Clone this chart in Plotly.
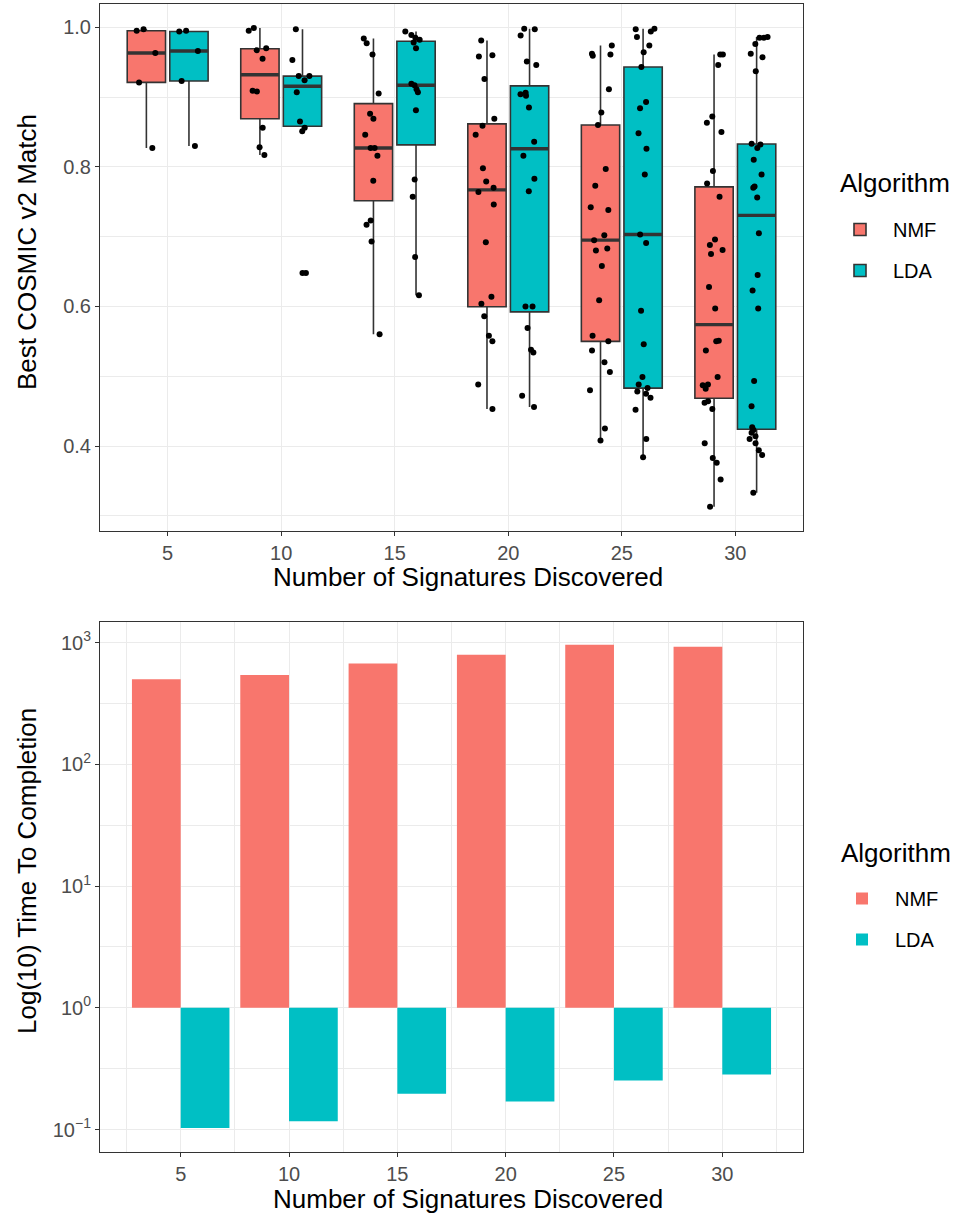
import numpy as np
import plotly.graph_objects as go

# ---------------- data ----------------
signatures = [5, 10, 15, 20, 25, 30]
algorithms = ["NMF", "LDA"]

nmf_5 = [0.997, 0.995, 0.963, 0.921, 0.827]
lda_5 = [0.995, 0.994, 0.966, 0.923, 0.830]
nmf_10 = [0.999, 0.995, 0.970, 0.967, 0.955, 0.909, 0.908, 0.856, 0.828, 0.817]
lda_10 = [0.997, 0.953, 0.930, 0.930, 0.924, 0.907, 0.865, 0.856, 0.851, 0.648]
nmf_15 = [0.984, 0.977, 0.961, 0.905, 0.876, 0.869, 0.846, 0.827, 0.827, 0.816,
          0.780, 0.723, 0.717, 0.693, 0.560]
lda_15 = [0.994, 0.989, 0.985, 0.982, 0.978, 0.970, 0.919, 0.917, 0.911, 0.907,
          0.881, 0.782, 0.757, 0.671, 0.616]
nmf_20 = [0.981, 0.960, 0.958, 0.926, 0.869, 0.859, 0.846, 0.798, 0.779, 0.770,
          0.764, 0.746, 0.692, 0.614, 0.604, 0.586, 0.558, 0.550, 0.488, 0.453]
lda_20 = [0.998, 0.997, 0.988, 0.951, 0.946, 0.906, 0.904, 0.902, 0.885, 0.836,
          0.816, 0.783, 0.765, 0.600, 0.600, 0.569, 0.538, 0.534, 0.472, 0.456]
nmf_25 = [0.974, 0.962, 0.961, 0.959, 0.911, 0.878, 0.860, 0.797, 0.773, 0.742,
          0.738, 0.702, 0.695, 0.683, 0.680, 0.658, 0.609, 0.558, 0.550, 0.537,
          0.520, 0.506, 0.480, 0.425, 0.408]
lda_25 = [0.998, 0.997, 0.994, 0.986, 0.974, 0.964, 0.943, 0.893, 0.884, 0.848,
          0.826, 0.789, 0.703, 0.691, 0.594, 0.546, 0.499, 0.488, 0.483, 0.478,
          0.475, 0.469, 0.452, 0.410, 0.384]
nmf_30 = [0.961, 0.961, 0.946, 0.872, 0.863, 0.850, 0.794, 0.776, 0.757, 0.696,
          0.688, 0.681, 0.675, 0.628, 0.597, 0.551, 0.550, 0.537, 0.499, 0.488,
          0.487, 0.482, 0.464, 0.462, 0.453, 0.404, 0.383, 0.376, 0.352, 0.313]
lda_30 = [0.986, 0.985, 0.985, 0.976, 0.962, 0.957, 0.937, 0.833, 0.832, 0.827,
          0.810, 0.789, 0.772, 0.770, 0.756, 0.705, 0.645, 0.623, 0.597, 0.493,
          0.457, 0.427, 0.423, 0.419, 0.414, 0.410, 0.404, 0.394, 0.387, 0.333]

# time to completion (seconds)
nmf_time = [501, 542, 673, 794, 962, 926]
lda_time = [0.103, 0.117, 0.197, 0.170, 0.253, 0.284]

log_tick_vals = [0.1, 1, 10, 100, 1000]
log_tick_text = ["10<sup>\u22121</sup>", "10<sup>0</sup>", "10<sup>1</sup>",
                 "10<sup>2</sup>", "10<sup>3</sup>"]

# ---------------- styling ----------------
FONT = "Liberation Sans, Arial, sans-serif"
COLORS = {"NMF": "#F8766D", "LDA": "#00BFC4"}
GRID = "#EBEBEB"
DARK = "#333333"
TICK_FONT = dict(family=FONT, size=20, color="#4D4D4D")
TITLE_SIZE = 26
CLEAR = "rgba(0,0,0,0)"

groups = {
    "NMF": [nmf_5, nmf_10, nmf_15, nmf_20, nmf_25, nmf_30],
    "LDA": [lda_5, lda_10, lda_15, lda_20, lda_25, lda_30],
}
times = {"NMF": nmf_time, "LDA": lda_time}


def box_stats(gs):
    q1, med, q3, lo, hi = [], [], [], [], []
    for g in gs:
        v = np.array(g)
        a, m, b = np.percentile(v, [25, 50, 75])
        iqr = b - a
        q1.append(a)
        med.append(m)
        q3.append(b)
        lo.append(v[v >= a - 1.5 * iqr].min())
        hi.append(v[v <= b + 1.5 * iqr].max())
    return q1, med, q3, lo, hi


fig = go.Figure()

for alg in algorithms:
    q1, med, q3, lo, hi = box_stats(groups[alg])
    common = dict(offsetgroup=alg, alignmentgroup="top", legendgroup=alg,
                  xaxis="x", yaxis="y", whiskerwidth=0, name=alg)
    fig.add_trace(go.Box(
        x=signatures, q1=q1, median=med, q3=q3, lowerfence=lo, upperfence=hi,
        fillcolor=COLORS[alg], line=dict(color=DARK, width=1.6),
        boxpoints=False, legend="legend", **common,
    ))
    # thick median bar (ggplot "fatten")
    fig.add_trace(go.Box(
        x=signatures, q1=med, median=med, q3=med, lowerfence=med, upperfence=med,
        fillcolor=CLEAR, line=dict(color=DARK, width=3.4),
        boxpoints=False, showlegend=False, hoverinfo="skip", **common,
    ))
    xs = [k for k, g in zip(signatures, groups[alg]) for _ in g]
    ys = [v for g in groups[alg] for v in g]
    # jittered sample points
    fig.add_trace(go.Box(
        x=xs, y=ys, boxpoints="all", jitter=0.6, pointpos=0,
        fillcolor=CLEAR, line=dict(color=CLEAR, width=0),
        marker=dict(color="black", size=6, line=dict(width=0)),
        showlegend=False, **common,
    ))
    # boxplot outliers (drawn at box centre, as ggplot does)
    fig.add_trace(go.Box(
        x=xs, y=ys, boxpoints="outliers", jitter=0, pointpos=0,
        fillcolor=CLEAR, line=dict(color=CLEAR, width=0),
        marker=dict(color="black", size=6, line=dict(width=0)),
        showlegend=False, **common,
    ))

for alg in algorithms:
    fig.add_trace(go.Bar(
        x=signatures, y=[t - 1 for t in times[alg]], base=1,
        customdata=times[alg], hovertemplate="%{customdata}<extra></extra>",
        name=alg, marker=dict(color=COLORS[alg], line=dict(width=0)),
        offsetgroup=alg, legendgroup=alg + "_t", legend="legend2",
        xaxis="x2", yaxis="y2",
    ))

axis_common = dict(
    showline=True, mirror=True, linecolor=DARK, linewidth=1.1,
    ticks="outside", ticklen=4, tickwidth=1.1, tickcolor=DARK,
    gridcolor=GRID, gridwidth=1.3, zeroline=False, tickfont=TICK_FONT,
)

legend_common = dict(
    font=dict(family=FONT, size=20, color="black"),
    xanchor="left", yanchor="top", bgcolor=CLEAR, itemwidth=56,
    tracegroupgap=12, traceorder="grouped",
)

PLOT_L, PLOT_R, PLOT_B, PLOT_T = 100, 803, 1152, 4
W, H = 955, 1214


def px_x(x):
    return (x - PLOT_L) / (PLOT_R - PLOT_L)


def px_y(y):
    return (PLOT_B - y) / (PLOT_B - PLOT_T)


# text labels: (text, x px, y px, xanchor, yanchor, angle)
labels = [
    ("Algorithm", 838, 183, "left", "middle", 0),
    ("Algorithm", 839, 853, "left", "middle", 0),
    ("Number of Signatures Discovered", 271, 577, "left", "middle", 0),
    ("Number of Signatures Discovered", 271, 1199, "left", "middle", 0),
    ("Best COSMIC v2 Match", 27, 392, "center", "bottom", -90),
    ("Log(10) Time To Completion", 27, 1036, "center", "bottom", -90),
]

fig.update_layout(
    width=W, height=H,
    margin=dict(l=PLOT_L, r=W - PLOT_R, t=PLOT_T, b=H - PLOT_B),
    paper_bgcolor="white", plot_bgcolor="white",
    font=dict(family=FONT, color="black"),
    boxmode="group", boxgap=0.25, boxgroupgap=0.1,
    barmode="group", bargap=0.1, bargroupgap=0,
    xaxis=dict(
        **axis_common, domain=[0, 1], anchor="y", range=[2.02, 32.98],
        tickmode="array", tickvals=signatures,
    ),
    yaxis=dict(
        **axis_common, domain=[px_y(530.7), 1.0], anchor="x", range=[0.2787, 1.0333],
        tickmode="array", tickvals=[0.4, 0.6, 0.8, 1.0],
        ticktext=["0.4", "0.6", "0.8", "1.0"],
        minor=dict(tickmode="array", tickvals=[0.3, 0.5, 0.7, 0.9], showgrid=True,
                   gridcolor=GRID, gridwidth=0.7, ticks=""),
    ),
    xaxis2=dict(
        **axis_common, domain=[0, 1], anchor="y2", range=[1.275, 33.725],
        tickmode="array", tickvals=signatures,
        minor=dict(tickmode="array", tickvals=[2.5, 7.5, 12.5, 17.5, 22.5, 27.5, 32.5],
                   showgrid=True, gridcolor=GRID, gridwidth=0.7, ticks=""),
    ),
    yaxis2=dict(
        **axis_common, domain=[0, px_y(621.7)], anchor="x2", type="log",
        range=[-1.184, 3.172], tickmode="array", tickvals=log_tick_vals,
        ticktext=log_tick_text,
        minor=dict(tickmode="array",
                   tickvals=[10 ** -0.5, 10 ** 0.5, 10 ** 1.5, 10 ** 2.5],
                   showgrid=True, gridcolor=GRID, gridwidth=0.7, ticks=""),
    ),
    legend=dict(**legend_common, x=px_x(827), y=px_y(210)),
    legend2=dict(**legend_common, x=px_x(829), y=px_y(879)),
    annotations=[
        dict(text=t, x=px_x(x), y=px_y(y), xref="paper", yref="paper",
             xanchor=xa, yanchor=ya, textangle=ang, showarrow=False,
             font=dict(family=FONT, size=TITLE_SIZE, color="black"))
        for (t, x, y, xa, ya, ang) in labels
    ],
)

fig.write_html(
    "out.html",
    config={"displayModeBar": False},
    post_script="document.body.style.margin='0';document.body.style.overflow='hidden';",
)
